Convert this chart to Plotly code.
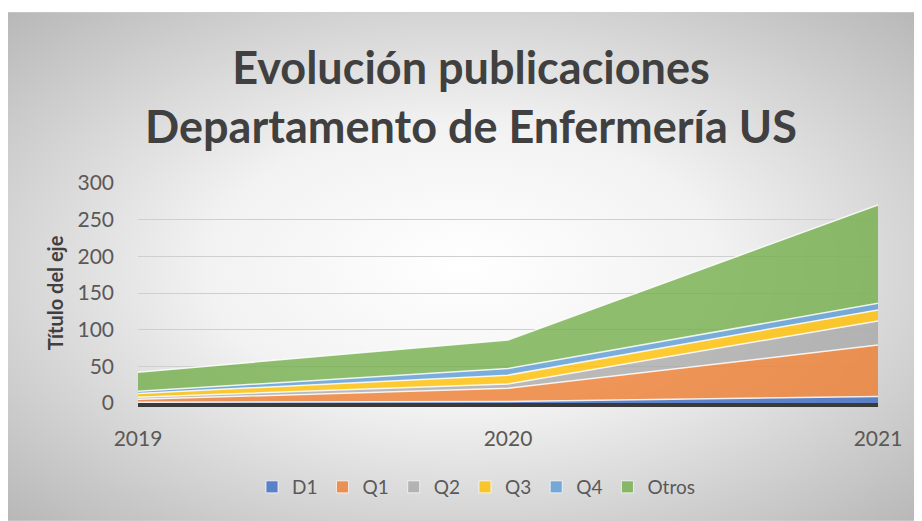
import plotly.graph_objects as go

years = [2019, 2020, 2021]
series_names = ["D1", "Q1", "Q2", "Q3", "Q4", "Otros"]
d1 = [1, 2, 9]
q1 = [4, 18, 70]
q2 = [3, 6, 33]
q3 = [5, 12, 15]
q4 = [3, 9, 9]
otros = [26, 39, 134]
y_ticks = [0, 50, 100, 150, 200, 250, 300]

values = [d1, q1, q2, q3, q4, otros]
colors = ["rgba(68,114,196,0.85)", "rgba(237,125,49,0.8)", "rgba(165,165,165,0.75)",
          "rgba(255,192,0,0.8)", "rgba(91,155,213,0.8)", "rgba(112,173,71,0.78)"]

# page body has an 8px margin; figure coords = reference coords - 8
W, H = 914, 513
L, T = 130, 175          # plot area left / top (fig coords)
PW, PH = 740, 220        # plot area width / height

fig = go.Figure()
for name, vals, col in zip(series_names, values, colors):
    fig.add_trace(go.Scatter(
        x=years, y=vals, name=name, mode="lines", stackgroup="one",
        line=dict(color="rgba(255,255,255,0.85)", width=1.5),
        fillcolor=col, showlegend=False,
    ))
# legend entries as square swatches
for name, col in zip(series_names, colors):
    fig.add_trace(go.Bar(x=[None], y=[None], name=name,
                         marker=dict(color=col, line=dict(color="rgba(255,255,255,0.7)", width=1))))

svg = ("data:image/svg+xml;utf8,"
       "<svg xmlns='http://www.w3.org/2000/svg' width='918' height='509' viewBox='0 0 918 509' preserveAspectRatio='none'>"
       "<defs><radialGradient id='g' cx='50%' cy='50%' r='70%'>"
       "<stop offset='0%' stop-color='%23ffffff'/><stop offset='40%' stop-color='%23f2f2f2'/>"
       "<stop offset='100%' stop-color='%23b8b8b8'/></radialGradient></defs>"
       "<rect width='918' height='509' fill='url(%23g)' stroke='%23d0d0d0'/></svg>")

fig.add_layout_image(dict(
    source=svg, xref="paper", yref="paper", layer="below",
    x=(-4 - L) / PW, y=1 + (T - 4) / PH,
    sizex=918 / PW, sizey=509 / PH,
    xanchor="left", yanchor="top", sizing="stretch",
))

fig.update_layout(
    width=W, height=H,
    margin=dict(l=L, r=W - L - PW, t=T, b=H - T - PH),
    paper_bgcolor="white", plot_bgcolor="rgba(0,0,0,0)",
    font=dict(family="Lato, 'Open Sans', sans-serif", color="#595959"),
    title=dict(text="Evolución publicaciones<br>Departamento de Enfermería US",
               x=(471 - 8) / W, xanchor="center", y=1 - (84 - 8) / H, yanchor="middle",
               xref="container", yref="container",
               font=dict(size=45, color="#404040", family="Lato", weight="bold")),
    xaxis=dict(range=[2019, 2021], tickvals=years, ticktext=[str(y) for y in years],
               tickfont=dict(size=21, color="#595959"), showgrid=False,
               showline=True, linecolor="#3a3a3a", linewidth=4, layer="above traces",
               ticks="", ticklen=0, zeroline=False, ticklabelstandoff=14),
    yaxis=dict(range=[0, 300], tickvals=y_ticks, tickfont=dict(size=21, color="#595959"),
               showgrid=True, gridcolor="#cfcfcf", gridwidth=1.3, zeroline=False,
               title=dict(text="<b>Título del eje</b>", font=dict(size=20, color="#404040"), standoff=8),
               ticks="", ticklen=0, ticklabelstandoff=23),
    showlegend=True,
    barmode="overlay",
    legend=dict(orientation="h", x=(476 - 8 - L) / PW, xanchor="center",
                y=-(487 - 8 - T - PH) / PH, yanchor="middle",
                font=dict(size=19, color="#595959"), bgcolor="rgba(0,0,0,0)",
                traceorder="normal", itemwidth=30),
)

fig.write_html("out.html")
